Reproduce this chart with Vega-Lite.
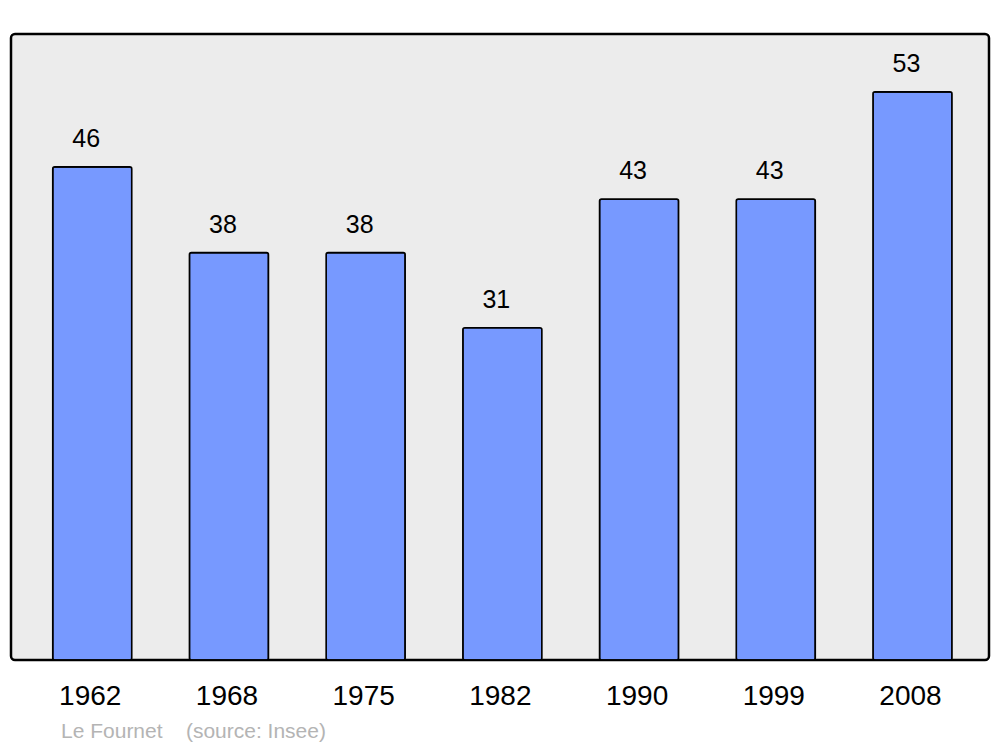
{
  "$schema": "https://vega.github.io/schema/vega-lite/v6.json",
  "width": 978,
  "height": 626,
  "autosize": {"type": "none"},
  "padding": {"left": 11, "top": 34, "right": 11, "bottom": 87},
  "background": "white",
  "config": {
    "view": {"fill": "#ececec", "stroke": "#000000", "strokeWidth": 2.5, "cornerRadius": 4},
    "font": "Liberation Sans"
  },
  "title": {
    "text": "Le Fournet\u00a0\u00a0\u00a0\u00a0(source: Insee)",
    "orient": "bottom",
    "anchor": "start",
    "color": "#b4b4b4",
    "fontSize": 21,
    "fontWeight": "normal",
    "font": "Liberation Sans",
    "offset": 11,
    "dx": 50
  },
  "data": {
    "values": [
      {"year": "1962", "pop": 46},
      {"year": "1968", "pop": 38},
      {"year": "1975", "pop": 38},
      {"year": "1982", "pop": 31},
      {"year": "1990", "pop": 43},
      {"year": "1999", "pop": 43},
      {"year": "2008", "pop": 53}
    ]
  },
  "encoding": {
    "x": {
      "field": "year",
      "type": "nominal",
      "sort": null,
      "scale": {"paddingInner": 0.422, "paddingOuter": 0.288, "align": 0.53},
      "axis": {
        "title": null,
        "domain": false,
        "ticks": false,
        "labelAngle": 0,
        "labelFontSize": 28,
        "labelColor": "#000000",
        "labelPadding": 22,
        "labelFont": "Liberation Sans",
        "labelOffset": -2
      }
    },
    "y": {
      "field": "pop",
      "type": "quantitative",
      "scale": {"domain": [0, 58.4], "nice": false, "zero": true},
      "axis": null
    }
  },
  "layer": [
    {
      "mark": {"type": "bar", "fill": "#7799ff", "stroke": "#000000", "strokeWidth": 1.6, "cornerRadius": 2}
    },
    {
      "mark": {"type": "text", "baseline": "bottom", "dy": -15, "dx": -6, "fontSize": 25, "color": "#000000", "font": "Liberation Sans"},
      "encoding": {"text": {"field": "pop", "type": "quantitative"}}
    }
  ]
}
